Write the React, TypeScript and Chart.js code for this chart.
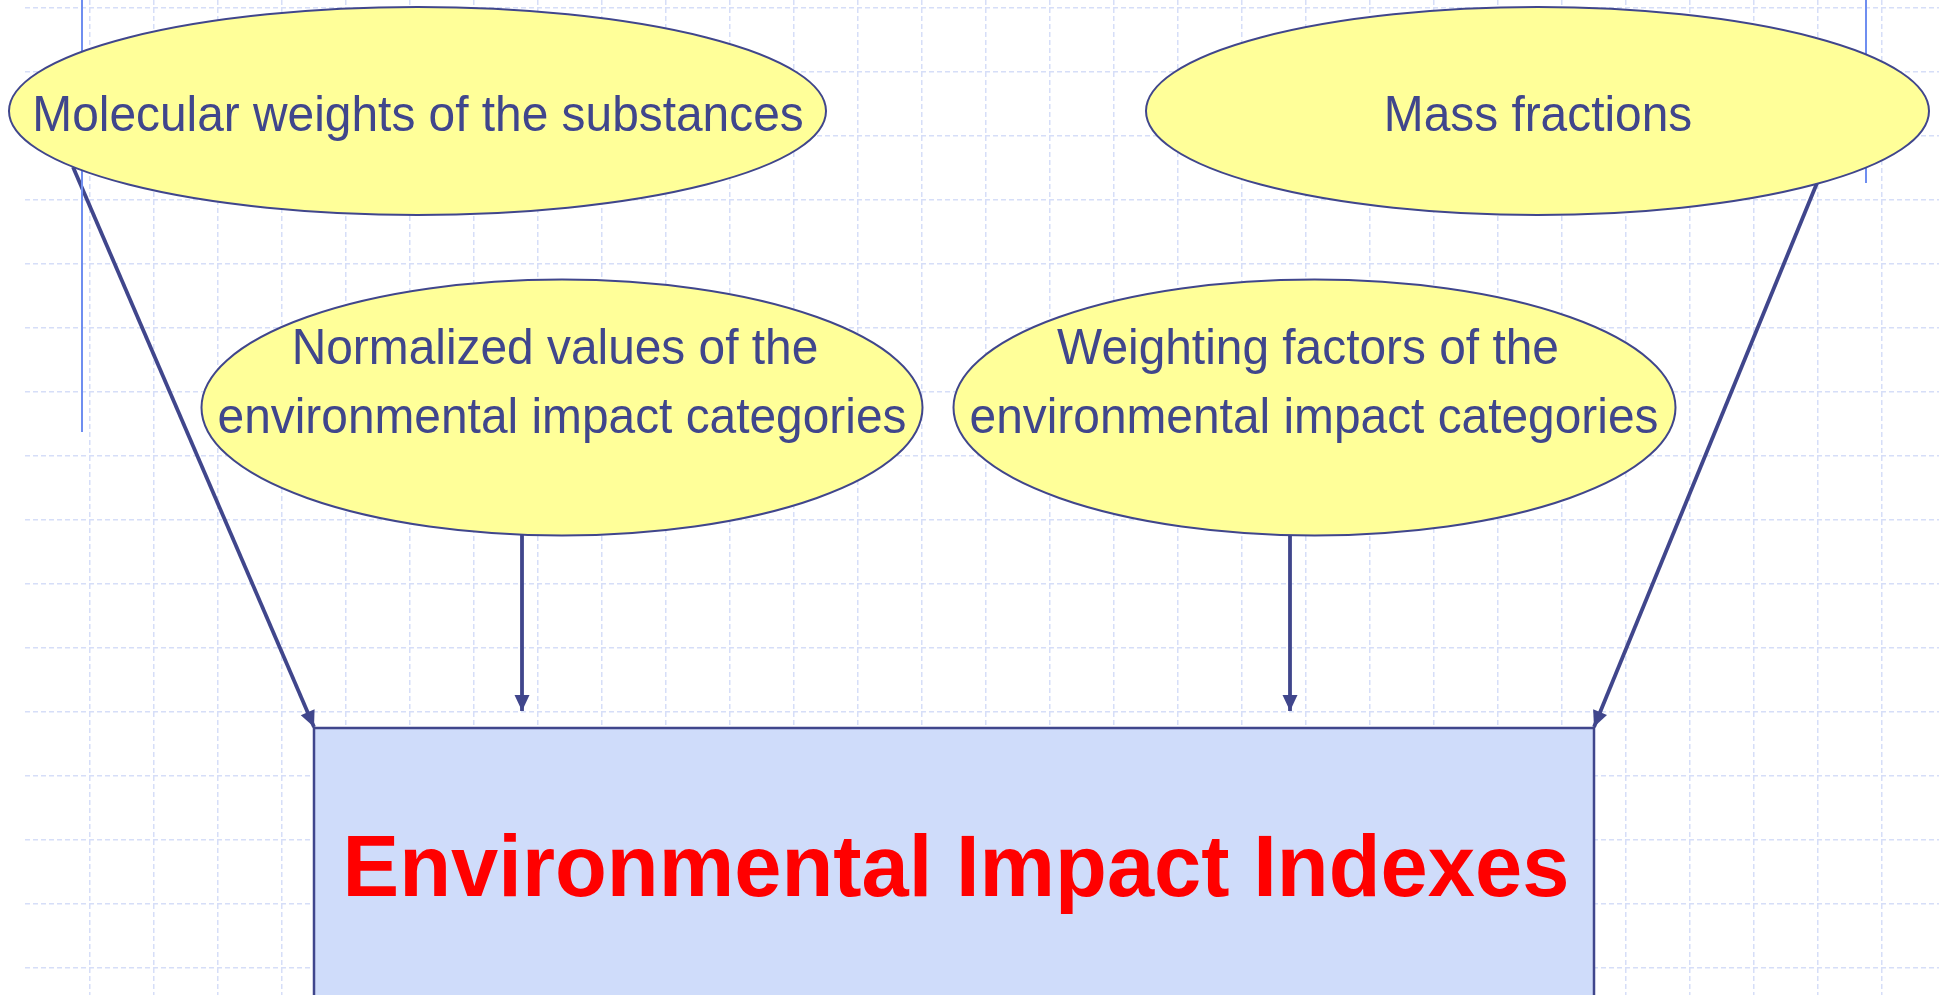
import React, { useEffect, useRef } from "react";
import { Chart, registerables } from "chart.js";

Chart.register(...registerables);

// ---- content ----
const nodeLabels: string[][] = [
  ["Molecular weights of the substances"],
  ["Mass fractions"],
  ["Normalized values of the", "environmental impact categories"],
  ["Weighting factors of the", "environmental impact categories"],
];
const targetLabel = "Environmental Impact Indexes";

// ---- diagram geometry, in scale units ----
const nodeCenterX = [417.5, 1537.5, 562, 1314.5];
const nodeCenterY = [111, 111, 407.5, 407.5];
const nodeRadiusX = [408.5, 391.5, 360.5, 361];
const nodeRadiusY = [104, 104, 128, 128];
const labelAnchorX = [[418], [1538], [555, 562], [1308, 1314]];
const labelBaselineY = [[131], [131], [364, 433], [364, 433]];

const boxLeft = 314;
const boxRight = 1594;
const boxTop = 728;
const boxBottom = 1010;
const boxLabelX = 956;
const boxLabelY = 896;

const arrowFromX = [73, 522, 1290, 1817];
const arrowFromY = [167, 535, 535, 183];
const arrowToX = [314, 522, 1290, 1594];
const arrowToY = [727, 711, 711, 727];

const guideX = [82, 1866];
const guideTop = [0, 0];
const guideBottom = [432, 183];

const gridXTicks = [
  90, 154, 218, 282, 346, 410, 474, 538, 602, 666, 730, 794, 858, 922, 986,
  1050, 1114, 1178, 1242, 1306, 1370, 1434, 1498, 1562, 1626, 1690, 1754,
  1818, 1882,
];
const gridYTicks = [
  8, 72, 136, 200, 264, 328, 392, 456, 520, 584, 648, 712, 776, 840, 904, 968,
];

// ---- styles ----
const INK = "#40468c";
const ELLIPSE_FILL = "#ffff99";
const BOX_FILL = "#cfdcfa";
const GRID = "#d6def8";
const GUIDE = "#6f8ef0";
const FONT = "'Liberation Sans', Arial, Helvetica, sans-serif";

function drawText(
  ctx: CanvasRenderingContext2D,
  text: string,
  x: number,
  y: number,
  font: string,
  color: string,
  squeeze: number
) {
  ctx.save();
  ctx.translate(x, y);
  ctx.scale(squeeze, 1);
  ctx.font = font;
  ctx.fillStyle = color;
  ctx.textAlign = "center";
  ctx.textBaseline = "alphabetic";
  ctx.fillText(text, 0, 0);
  ctx.restore();
}

const diagramPlugin = {
  id: "diagram",
  afterDatasetsDraw(chart: any) {
    const ctx: CanvasRenderingContext2D = chart.ctx;
    const xs = chart.scales.x;
    const ys = chart.scales.y;
    const px = (v: number) => xs.getPixelForValue(v);
    const py = (v: number) => ys.getPixelForValue(v);

    // arrowheads
    ctx.save();
    ctx.fillStyle = INK;
    for (let i = 0; i < arrowToX.length; i++) {
      const x0 = px(arrowFromX[i]);
      const y0 = py(arrowFromY[i]);
      const x1 = px(arrowToX[i]);
      const y1 = py(arrowToY[i]);
      const a = Math.atan2(y1 - y0, x1 - x0);
      const len = 16;
      const hw = 7.5;
      const bx = x1 - Math.cos(a) * len;
      const by = y1 - Math.sin(a) * len;
      ctx.beginPath();
      ctx.moveTo(x1, y1);
      ctx.lineTo(bx + Math.sin(a) * hw, by - Math.cos(a) * hw);
      ctx.lineTo(bx - Math.sin(a) * hw, by + Math.cos(a) * hw);
      ctx.closePath();
      ctx.fill();
    }
    ctx.restore();

    // ellipses
    for (let i = 0; i < nodeLabels.length; i++) {
      const cx = px(nodeCenterX[i]);
      const cy = py(nodeCenterY[i]);
      const rx = Math.abs(px(nodeCenterX[i] + nodeRadiusX[i]) - cx);
      const ry = Math.abs(py(nodeCenterY[i] + nodeRadiusY[i]) - cy);
      ctx.save();
      ctx.beginPath();
      ctx.ellipse(cx, cy, rx, ry, 0, 0, Math.PI * 2);
      ctx.fillStyle = ELLIPSE_FILL;
      ctx.fill();
      ctx.lineWidth = 2;
      ctx.strokeStyle = INK;
      ctx.stroke();
      ctx.restore();
      nodeLabels[i].forEach((line, j) => {
        drawText(
          ctx,
          line,
          px(labelAnchorX[i][j]),
          py(labelBaselineY[i][j]),
          `50px ${FONT}`,
          INK,
          0.957
        );
      });
    }

    // target box
    const l = px(boxLeft);
    const r = px(boxRight);
    const t = py(boxTop);
    const b = py(boxBottom);
    ctx.save();
    ctx.fillStyle = BOX_FILL;
    ctx.fillRect(l, t, r - l, b - t);
    ctx.lineWidth = 2.5;
    ctx.strokeStyle = INK;
    ctx.strokeRect(l, t, r - l, b - t);
    ctx.restore();
    drawText(
      ctx,
      targetLabel,
      px(boxLabelX),
      py(boxLabelY),
      `bold 87px ${FONT}`,
      "#ff0000",
      0.976
    );
  },
};

export default function App() {
  const canvasRef = useRef<HTMLCanvasElement | null>(null);

  useEffect(() => {
    const canvas = canvasRef.current;
    if (!canvas) return;

    const datasets: any[] = [];
    for (let i = 0; i < guideX.length; i++) {
      datasets.push({
        data: [
          { x: guideX[i], y: guideTop[i] },
          { x: guideX[i], y: guideBottom[i] },
        ],
        showLine: true,
        borderColor: GUIDE,
        borderWidth: 2,
        pointRadius: 0,
      });
    }
    for (let i = 0; i < arrowFromX.length; i++) {
      datasets.push({
        data: [
          { x: arrowFromX[i], y: arrowFromY[i] },
          { x: arrowToX[i], y: arrowToY[i] },
        ],
        showLine: true,
        borderColor: INK,
        borderWidth: 3.8,
        borderCapStyle: "butt",
        pointRadius: 0,
      });
    }

    const chart = new Chart(canvas, {
      type: "scatter",
      data: { datasets },
      options: {
        animation: false,
        responsive: false,
        maintainAspectRatio: false,
        devicePixelRatio: 1,
        layout: { padding: { left: 25, right: 0, top: 0, bottom: 0 } },
        plugins: {
          legend: { display: false },
          tooltip: { enabled: false },
        },
        events: [],
        scales: {
          x: {
            type: "linear",
            min: 25,
            max: 1939,
            afterBuildTicks: (scale: any) => {
              scale.ticks = gridXTicks.map((v) => ({ value: v }));
            },
            ticks: { display: false },
            grid: { color: GRID, lineWidth: 1.5, drawTicks: false },
            border: { display: false, dash: [5, 3] },
          },
          y: {
            type: "linear",
            min: 0,
            max: 995,
            reverse: true,
            afterBuildTicks: (scale: any) => {
              scale.ticks = gridYTicks.map((v) => ({ value: v }));
            },
            ticks: { display: false },
            grid: { color: GRID, lineWidth: 1.5, drawTicks: false },
            border: { display: false, dash: [5, 3] },
          },
        },
      } as any,
      plugins: [diagramPlugin],
    });

    return () => chart.destroy();
  }, []);

  return (
    <div
      style={{
        position: "fixed",
        left: 0,
        top: 0,
        width: 1939,
        height: 995,
        background: "#ffffff",
        overflow: "hidden",
      }}
    >
      <canvas ref={canvasRef} width={1939} height={995} />
    </div>
  );
}
